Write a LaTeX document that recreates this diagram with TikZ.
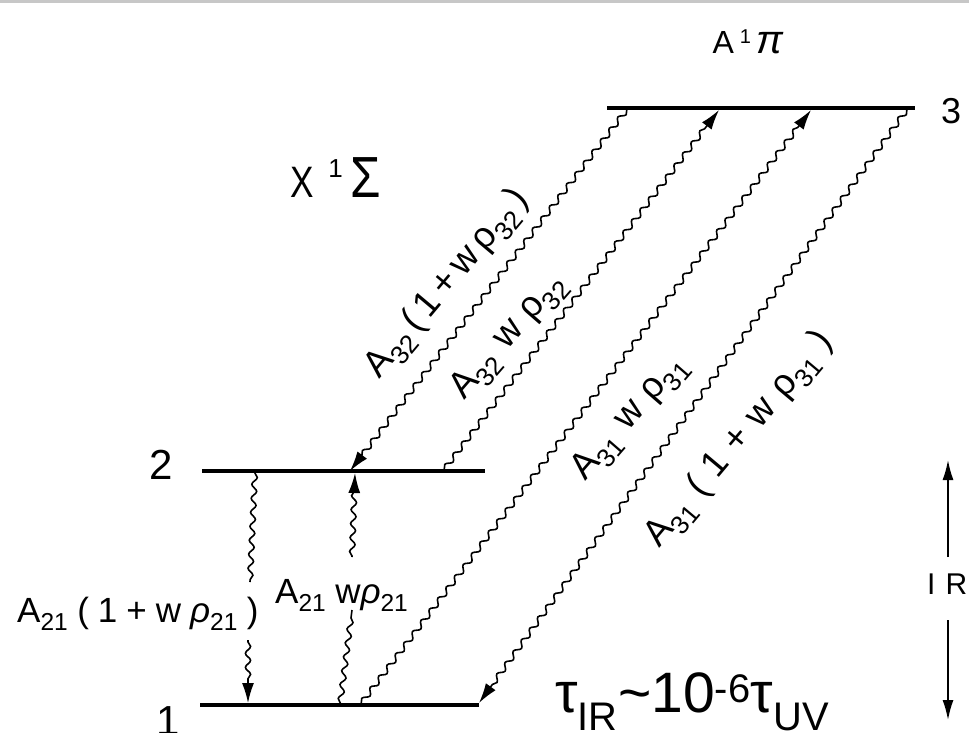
\documentclass[tikz,border=0pt]{standalone}
\usepackage{fontspec}
\setmainfont{Liberation Sans}
\usetikzlibrary{decorations.pathmorphing,arrows.meta}
\newcommand{\gpw}{10pt}
\newcommand{\gp}{\hspace{\gpw}}
\newcommand{\sbs}[1]{\textsubscript{#1}}
\begin{document}
\begin{tikzpicture}[x=1pt,y=-1pt,
  level/.style={line width=4.2pt},
  wave/.style={line width=1.6pt, decorate,
    decoration={snake,segment length=14pt,amplitude=2.6pt,pre length=2pt,post length=18pt}},
  wavetip/.style={wave,-{Latex[length=20pt,width=12pt]}},
  lbl/.style={font=\fontsize{37}{40}\selectfont, inner sep=0pt},
  num/.style={font=\fontsize{42}{46}\selectfont, inner sep=0pt},
  irarrow/.style={line width=1.7pt,-{Latex[length=20pt,width=11pt]}}
]
\useasboundingbox (0,0) rectangle (969,732);
\fill[black!22] (0,0) rectangle (969,3);

% levels
\coordinate (L3w) at (607,108); \coordinate (L3e) at (915,108);
\coordinate (L2w) at (202,471); \coordinate (L2e) at (485,471);
\coordinate (L1w) at (200,705); \coordinate (L1e) at (479,705);
\draw[level] (L3w) -- (L3e);
\draw[level] (L2w) -- (L2e);
\draw[level] (L1w) -- (L1e);

\node[num, font=\fontsize{36}{40}\selectfont] (n3) at (951,111) {3};
\node[num] (n2) at (161,465) {2};
\node[num] (n1) at (168,721) {1};

\node[inner sep=0pt] (A1pi) at (748,42)
  {\fontsize{32}{34}\selectfont A\hspace{6pt}\raisebox{10pt}{\fontsize{20}{20}\selectfont 1}\hspace{5pt}\fontsize{40}{40}\selectfont\textit{π}};
\node[inner sep=0pt] (X1S) at (336,178)
  {\fontsize{44}{44}\selectfont \scalebox{0.8}[1]{X}\hspace{14pt}\raisebox{20pt}{\fontsize{26}{26}\selectfont 1}\hspace{8pt}\fontsize{58}{58}\selectfont \scalebox{0.85}[1]{Σ}};

% transition end points
\coordinate (a3) at (628,108);  \coordinate (a2) at (350,471);
\coordinate (b2) at (443,471);  \coordinate (b3) at (719,110);
\coordinate (c1) at (360,705);  \coordinate (c3) at (811,110);
\coordinate (d3) at (908,108);  \coordinate (d1) at (479,703);
\coordinate (e2) at (255,471);  \coordinate (e2g) at (250,582);
\coordinate (e1g) at (248,640); \coordinate (e1) at (248,703);
\coordinate (f1) at (340,705);  \coordinate (f1g) at (352,610);
\coordinate (f2g) at (352,557); \coordinate (f2) at (355,473);

\draw[wavetip] (a3) -- (a2);
\draw[wavetip] (b2) -- (b3);
\draw[wavetip] (c1) -- (c3);
\draw[wavetip] (d3) -- (d1);
\draw[wave, decoration={post length=2pt}] (e2) -- (e2g);
\draw[wavetip] (e1g) -- (e1);
\draw[wave, decoration={post length=2pt}] (f1) -- (f1g);
\draw[wavetip, decoration={pre length=1pt}] (f2g) -- (f2);

% labels
\node[lbl, rotate=50] (t32a) at (448,284)
  {\renewcommand{\gpw}{6pt}A\sbs{32}\gp(\gp1\gp+\gp w\gp ρ\sbs{32}\gp)};
\node[lbl, rotate=49] (t32b) at (509,337)
  {\renewcommand{\gpw}{12pt}A\sbs{32}\gp w\gp ρ\sbs{32}};
\node[lbl, rotate=49] (t31b) at (630,418)
  {\renewcommand{\gpw}{12pt}A\sbs{31}\gp w\gp ρ\sbs{31}};
\node[lbl, rotate=50] (t31a) at (740,440)
  {\renewcommand{\gpw}{12pt}A\sbs{31}\gp(\gp1\gp+\gp w\gp ρ\sbs{31}\gp)};
\node[lbl, anchor=base west, font=\fontsize{35}{38}\selectfont] (t21a) at (17,622)
  {\renewcommand{\gpw}{9pt}A\sbs{21}\gp(\gp1\gp+\gp w\gp\textit{ρ}\sbs{21}\gp)};
\node[lbl, anchor=base west, font=\fontsize{35}{38}\selectfont] (t21b) at (275,603)
  {A\sbs{21}\hspace{9pt}w\textit{ρ}\sbs{21}};

% IR arrow
\coordinate (irtop) at (948,460); \coordinate (irm1) at (948,557);
\coordinate (irm2) at (948,620); \coordinate (irbot) at (948,720);
\draw[irarrow] (irm1) -- (irtop);
\draw[irarrow] (irm2) -- (irbot);
\node[inner sep=0pt, anchor=west, font=\fontsize{30}{32}\selectfont] (IR) at (927,584)
  {I\hspace{10pt}R};

\node[inner sep=0pt, anchor=base west, font=\fontsize{57}{60}\selectfont] (tau) at (555,712)
  {τ\textsubscript{IR}\textasciitilde 10\textsuperscript{-6}τ\textsubscript{UV}};
\end{tikzpicture}
\end{document}
